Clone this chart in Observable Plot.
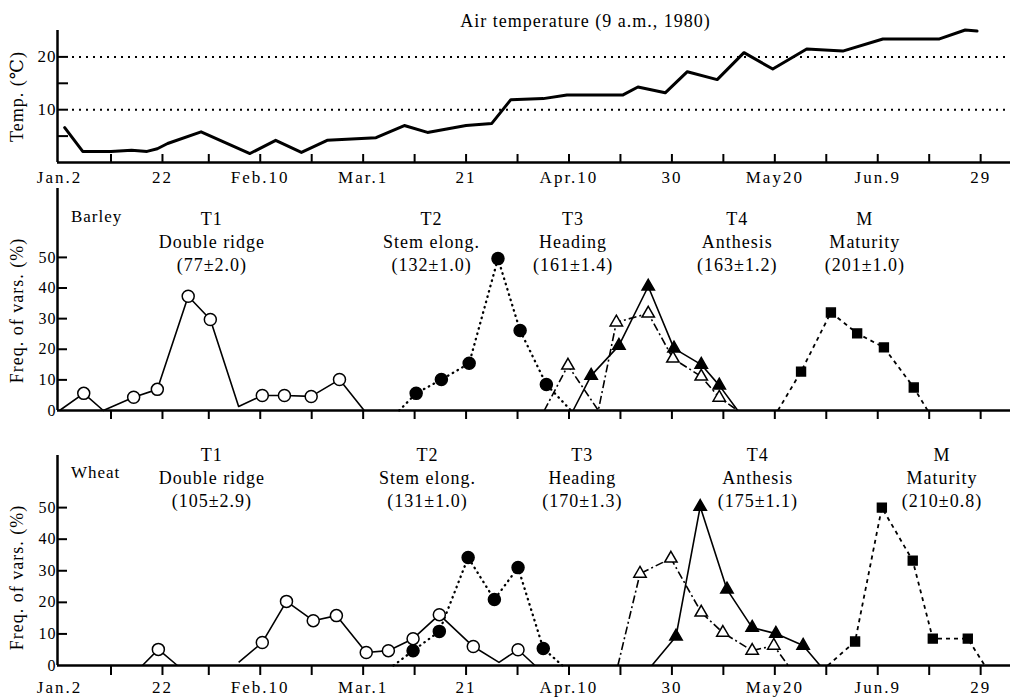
<!DOCTYPE html>
<html><head><meta charset="utf-8">
<script src="https://cdn.jsdelivr.net/npm/d3@7"></script>
<script src="https://cdn.jsdelivr.net/npm/@observablehq/plot@0.6"></script>
<style>
html,body{margin:0;padding:0;background:#fff;overflow:hidden;}
#chart{width:1017px;height:697px;}
#chart svg{display:block;}
</style></head><body><div id="chart"></div>
<script>
// ---------- DATA (x = day of year 1980, 1 = Jan.1) ----------
const labelTickDays  = [2, 22, 41, 61, 81, 101, 121, 141, 161, 181];
const labelTickNames = ["Jan.2","22","Feb.10","Mar.1","21","Apr.10","30","May20","Jun.9","29"];
const minorTickDays  = [12, 31, 51, 71, 91, 111, 131, 151, 171];

const tempTitle = "Air temperature (9 a.m., 1980)";
const tempYLabel = "Temp. (\u2103)";
const freqYLabel = "Freq. of vars. (%)";
const tempTicks = [5, 10, 15, 20];
const tempTickLabels = [10, 20];
const tempRefLines = [10, 20];
const freqTicks = [0, 10, 20, 30, 40, 50];

const tempDay = [3, 6.5, 12, 16, 19, 21, 23, 29.5, 39, 44, 49, 54, 63.5, 69, 73.5, 81, 86, 89.7, 96, 100.6, 111.5, 114.4, 119.7, 124, 129.8, 135, 140.6, 147.2, 154.2, 162, 173, 178, 180.3];
const tempC   = [6.6, 2.1, 2.1, 2.3, 2.1, 2.6, 3.6, 5.8, 1.7, 4.2, 1.9, 4.2, 4.7, 7.0, 5.7, 7.0, 7.4, 11.9, 12.1, 12.8, 12.8, 14.3, 13.2, 17.2, 15.7, 20.8, 17.7, 21.5, 21.1, 23.4, 23.4, 25.1, 24.9];

const stageCodes = ["T1", "T2", "T3", "T4", "M"];
const stageNames = ["Double ridge", "Stem elong.", "Heading", "Anthesis", "Maturity"];
const barleyMeans = ["(77\u00b12.0)", "(132\u00b11.0)", "(161\u00b11.4)", "(163\u00b11.2)", "(201\u00b11.0)"];
const wheatMeans  = ["(105\u00b12.9)", "(131\u00b11.0)", "(170\u00b11.3)", "(175\u00b11.1)", "(210\u00b10.8)"];

// Barley
const bT1Day = [2, 6.7, 10.5, 16.4, 21, 27, 31.3, 36.8, 41.4, 45.7, 50.9, 56.4, 61.2];
const bT1    = [0, 5.6, 0, 4.3, 6.9, 37.3, 29.7, 1.3, 4.9, 4.9, 4.6, 10.1, 0];
const bT2Day = [68, 71.3, 76.2, 81.6, 87.2, 91.5, 96.6, 101.4];
const bT2    = [0, 5.6, 10.1, 15.4, 49.6, 26.1, 8.5, 0];
const bT3Day = [96.2, 100.8, 106.7, 110.2, 116.4, 121.2, 126.7, 130.2, 133.8];
const bT3    = [0, 14.7, 0, 28.8, 31.7, 17, 11.1, 4.2, 0];
const bT4Day = [101.8, 105.3, 110.7, 116.4, 121.4, 126.7, 130.2, 133.8];
const bT4    = [0, 11.4, 21.2, 40.5, 20.3, 15, 8.2, 0];
const bMDay  = [141.6, 146.1, 151.9, 157, 162.2, 168, 170.7];
const bM     = [0, 12.7, 32, 25.2, 20.6, 7.5, 0];

// Wheat
const wT1Day = [18.1, 21.2, 24.9, null, 36.8, 41.4, 46.1, 51.3, 55.8, 61.6, 65.9, 70.7, 75.8, 82.4, 87.4, 91.1, 94.4];
const wT1    = [0, 5.1, 0, null, 1, 7.3, 20.3, 14.2, 15.8, 4.1, 4.7, 8.5, 16.1, 6, 1, 5, 0];
const wT2Day = [66.9, 70.7, 75.8, 81.4, 86.5, 91.1, 96, 99.7];
const wT2    = [0, 4.7, 10.8, 34.2, 20.9, 31, 5.4, 0];
const wT3Day = [110.5, 114.8, 120.8, 126.7, 130.9, 136.6, 140.8, 143.6];
const wT3    = [0, 29.1, 33.9, 16.8, 10.4, 4.7, 6.3, 0];
const wT4Day = [117.1, 121.8, 126.5, 131.7, 136.6, 141.2, 146.5, 149.8];
const wT4    = [0, 9.2, 50.3, 24.1, 12, 10.1, 6.3, 0];
const wMDay  = [151.3, 156.6, 161.8, 167.8, 171.7, 178.5, 181.8];
const wM     = [0, 7.6, 50, 33.2, 8.5, 8.5, 0];

// ---------- LAYOUT ----------
const W = 1017, ML = 57, MR = 7;
const xDomain = [1.6, 186.8];
const FONT = "'Liberation Serif', 'DejaVu Serif', serif";
const innerW = W - ML - MR;
const barleyLabelDay = [31.6, 74.3, 101.8, 133.7, 158.5];
const wheatLabelDay  = [31.6, 73.5, 103.6, 137.7, 173.5];

const rows = (days, vals) => days.map((day, i) => ({day, v: vals[i]}));
const nameOf = new Map(labelTickDays.map((d, i) => [d, labelTickNames[i]]));
const tickDays = labelTickDays.slice(1).concat(minorTickDays);

const styles = [
  {dash: null, width: 1.6, symbol: "circle", fill: "white", r: 6},
  {dash: "0.5,5", width: 2.3, cap: "round", symbol: "circle", fill: "black", r: 6},
  {dash: "8,3,2,3", width: 1.6, symbol: "triangle", fill: "white", r: 4.6},
  {dash: null, width: 1.6, symbol: "triangle", fill: "black", r: 4.6},
  {dash: "4,4", width: 1.8, symbol: "square", fill: "black", r: 5}
];

function seriesMarks(list) {
  const out = [];
  list.forEach((data, i) => {
    const s = styles[i];
    out.push(Plot.line(data, {x: "day", y: "v", stroke: "black", strokeWidth: s.width,
      strokeDasharray: s.dash, strokeLinecap: s.cap || "butt", strokeLinejoin: "round"}));
  });
  list.forEach((data, i) => {
    const s = styles[i];
    out.push(Plot.dot(data.filter(d => d.v > 2), {x: "day", y: "v", symbol: s.symbol, r: s.r,
      fill: s.fill, stroke: "black", strokeWidth: 1.5}));
  });
  return out;
}

function frameMarks() {
  return [
    Plot.ruleX([xDomain[0]], {strokeWidth: 2.5}),
    Plot.ruleY([0], {strokeWidth: 2.5})
  ];
}

function stageLabels(dayPos, means, yVal) {
  const data = stageCodes.map((c, i) => ({day: dayPos[i], y: yVal, t: c + "\n" + stageNames[i] + "\n" + means[i]}));
  return Plot.text(data, {x: "day", y: "y", text: "t", fontSize: 18, lineHeight: 1.28,
    textAnchor: "middle", lineAnchor: "middle", fill: "black"});
}

function yLabel(text, dy) {
  return Plot.text([text], {frameAnchor: "left", rotate: -90, dx: -40, dy, fontSize: 18,
    textAnchor: "middle", lineAnchor: "middle", ariaLabel: "ylab"});
}

const chart = document.getElementById("chart");
const svgStyle = {fontFamily: FONT, background: "white", letterSpacing: "1px", overflow: "visible"};

// ---------- Panel 1: temperature ----------
{
  const height = 185, mt = 30, mb = 23, innerH = height - mt - mb;
  const p = Plot.plot({
    width: W, height, marginLeft: ML, marginRight: MR, marginTop: mt, marginBottom: mb,
    x: {domain: xDomain}, y: {domain: [0, 25]},
    style: svgStyle,
    marks: [
      Plot.ruleY(tempRefLines, {y: d => d, strokeDasharray: "2,5", strokeWidth: 2, insetLeft: 15, insetRight: 5}),
      Plot.line(rows(tempDay, tempC), {x: "day", y: "v", stroke: "black", strokeWidth: 3, strokeLinejoin: "round"}),
      ...frameMarks(),
      Plot.tickX(tickDays, {x: d => d, insetTop: innerH - 8, strokeWidth: 2}),
      Plot.tickY(tempTicks, {y: d => d, insetRight: innerW - 11, strokeWidth: 2}),
      Plot.axisX(labelTickDays, {tickSize: 0, tickPadding: 8, fontSize: 17, label: null, tickFormat: d => nameOf.get(d)}),
      Plot.axisY(tempTickLabels, {tickSize: 0, tickPadding: 1, fontSize: 17, label: null}),
      Plot.text([tempTitle], {frameAnchor: "top-left", dx: 528, dy: -9, fontSize: 18, textAnchor: "middle", lineAnchor: "middle", ariaLabel: "title"}),
      yLabel(tempYLabel, 0)
    ]
  });
  chart.appendChild(p);
}

// ---------- Panel 2: barley ----------
{
  const height = 245, mt = 3, mb = 20, innerH = height - mt - mb;
  const p = Plot.plot({
    width: W, height, marginLeft: ML, marginRight: MR, marginTop: mt, marginBottom: mb,
    x: {domain: xDomain}, y: {domain: [0, 72.5]},
    style: svgStyle,
    marks: [
      ...frameMarks(),
      Plot.axisX(tickDays, {tickSize: 9, strokeWidth: 2, tickFormat: () => "", label: null}),
      Plot.tickY(freqTicks.slice(1), {y: d => d, insetRight: innerW - 10, strokeWidth: 2}),
      Plot.axisY(freqTicks, {tickSize: 0, tickPadding: 1, fontSize: 16, label: null}),
      ...seriesMarks([rows(bT1Day, bT1), rows(bT2Day, bT2), rows(bT3Day, bT3), rows(bT4Day, bT4), rows(bMDay, bM)]),
      stageLabels(barleyLabelDay, barleyMeans, 55.6),
      Plot.text(["Barley"], {x: 9.2, y: 63.4, fontSize: 17, textAnchor: "middle", lineAnchor: "middle"}),
      yLabel(freqYLabel, 11)
    ]
  });
  chart.appendChild(p);
}

// ---------- Panel 3: wheat ----------
{
  const height = 267, mt = 25, mb = 32, innerH = height - mt - mb;
  const p = Plot.plot({
    width: W, height, marginLeft: ML, marginRight: MR, marginTop: mt, marginBottom: mb,
    x: {domain: xDomain}, y: {domain: [0, 66.5]},
    style: svgStyle,
    marks: [
      ...frameMarks(),
      Plot.axisX(tickDays, {tickSize: 10, strokeWidth: 2, tickFormat: () => "", label: null}),
      Plot.axisX(labelTickDays, {tickSize: 0, tickPadding: 15, fontSize: 17, label: null, tickFormat: d => nameOf.get(d)}),
      Plot.tickY(freqTicks.slice(1), {y: d => d, insetRight: innerW - 10, strokeWidth: 2}),
      Plot.axisY(freqTicks, {tickSize: 0, tickPadding: 1, fontSize: 16, label: null}),
      ...seriesMarks([rows(wT1Day, wT1), rows(wT2Day, wT2), rows(wT3Day, wT3), rows(wT4Day, wT4), rows(wMDay, wM)]),
      stageLabels(wheatLabelDay, wheatMeans, 59.7),
      Plot.text(["Wheat"], {x: 9, y: 61.1, fontSize: 17, textAnchor: "middle", lineAnchor: "middle"}),
      yLabel(freqYLabel, 17)
    ]
  });
  chart.appendChild(p);
}

document.querySelectorAll('g[aria-label="ylab"] text').forEach(t => t.style.letterSpacing = "2.5px");
document.querySelectorAll('g[aria-label="x-axis tick label"] text').forEach(t => t.style.letterSpacing = "2px");
document.querySelectorAll('g[aria-label="title"] text').forEach(t => t.style.letterSpacing = "1.7px");
</script>
</body></html>
